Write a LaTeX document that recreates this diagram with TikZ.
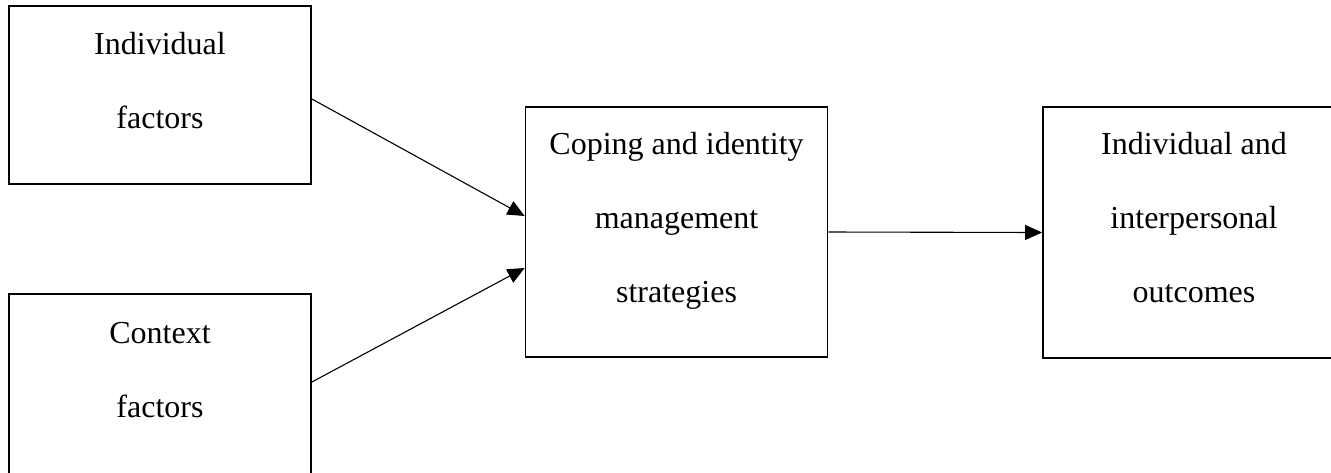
\documentclass[tikz,border=0pt]{standalone}
\usepackage{fontspec}
\setmainfont{Liberation Serif}
\usetikzlibrary{arrows.meta,calc}

\begin{document}
\begin{tikzpicture}[x=0.5pt,y=-0.5pt]%
  \tikzstyle{boxn}=[rectangle,draw,line width=0.9pt,minimum width=151pt,inner sep=0]
  \tikzstyle{txtn}=[align=center,anchor=base,inner sep=0,font=\fontsize{16}{36.8}\selectfont]
  \tikzstyle{arrn}=[line width=0.55pt,-{Triangle[length=8.5pt,width=7.5pt]}]
  \useasboundingbox (0,0) rectangle (1331,472);
  % boxes
  \node(ind)[boxn,minimum height=89pt] at (160,95){};
  \node(ctx)[boxn,minimum height=92pt] at (160,386){};
  \node(cope)[boxn,minimum height=125pt] at (676.5,232){};
  \node(out)[boxn,minimum height=125.5pt] at (1194,232.5){};
  % texts (base = last line)
  \node(indt)[txtn] at (160,128){Individual\\factors};
  \node(ctxt)[txtn] at (160,417){Context\\factors};
  \node(copet)[txtn] at (676.5,302){Coping and identity\\management\\strategies};
  \node(outt)[txtn] at (1194,302){Individual and\\interpersonal\\outcomes};
  % arrows
  \draw[arrn] ($(ind.east)+(0,4)$) -- ($(cope.west)+(0,-16)$);
  \draw[arrn] ($(ctx.east)+(0,-4)$) -- ($(cope.west)+(0,36)$);
  \draw[arrn] (cope.east) -- (out.west);
\end{tikzpicture}
\end{document}
